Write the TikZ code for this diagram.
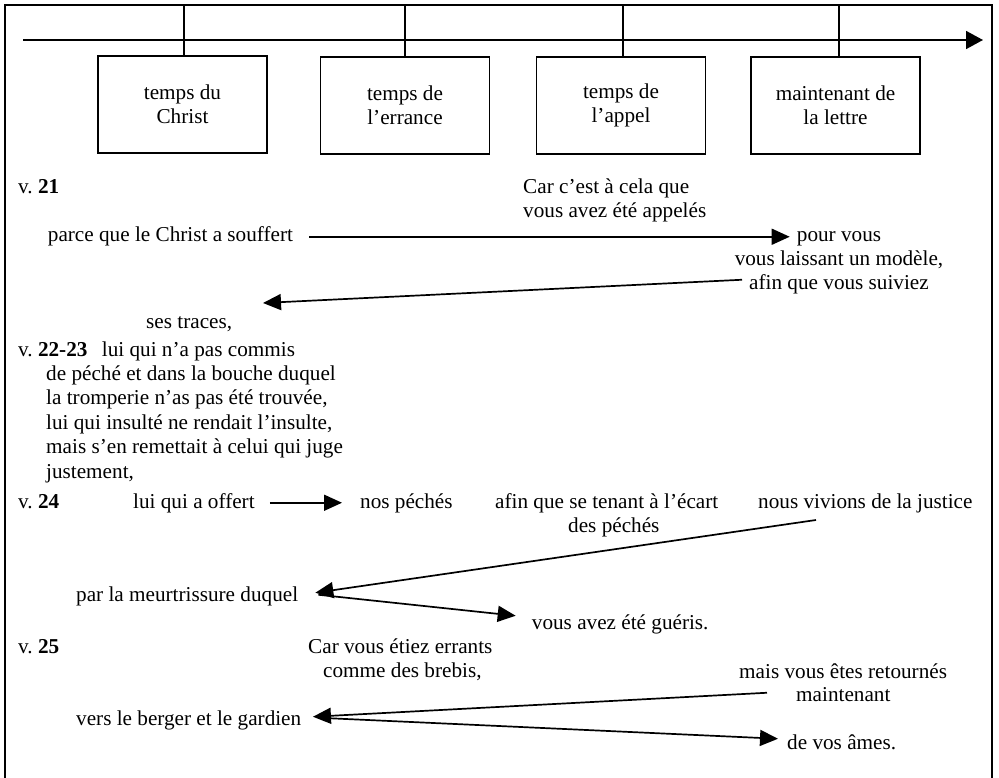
\documentclass[tikz,border=0pt]{standalone}
\usepackage{fontspec}
\setmainfont{Liberation Serif}
\usetikzlibrary{arrows.meta}
\begin{document}
\frenchspacing
\begin{tikzpicture}[x=1pt,y=-1pt,
  txt/.style={inner sep=0pt, anchor=base west, text height=15pt, text depth=4.5pt, font=\fontsize{21.2}{24.4}\selectfont\frenchspacing},
  ctxt/.style={txt, anchor=base},
  period/.style={draw, line width=1.6pt, minimum width=169pt, minimum height=97pt, inner sep=0pt, align=center, font=\fontsize{21.2}{24}\selectfont},
  arr/.style={line width=1.7pt, -{Triangle[length=18pt,width=16pt]}},
  tick/.style={line width=1.6pt},
  frame/.style={line width=2pt},
]
\useasboundingbox (0,0) rectangle (999,778);
% frame
\draw[frame] (5,778) -- (5,5) -- (992,5) -- (992,778);
% timeline
\coordinate (tl0) at (23,40);
\coordinate (tl1) at (983,40);
\coordinate (top) at (0,5);
\draw[line width=1.7pt, -{Triangle[length=17pt,width=18pt]}] (tl0) -- (tl1);
% period boxes
\node[period] (b1) at (182.5,104.5) {temps du\\Christ};
\node[period] (b2) at (405,105.5) {temps de\\l’errance};
\node[period] (b3) at (621,105.5) {temps de\\l’appel};
\node[period] (b4) at (835.5,105.5) {maintenant de\\la lettre};
\draw[tick] ([xshift=1.5pt]b1.north) -- ([xshift=1.5pt]b1.north |- top);
\draw[tick] (b2.north) -- (b2.north |- top);
\draw[tick] ([xshift=2pt]b3.north) -- ([xshift=2pt]b3.north |- top);
\draw[tick] ([xshift=3.5pt]b4.north) -- ([xshift=3.5pt]b4.north |- top);
% v. 21
\node[txt] (v21) at (18,194) {v. \textbf{21}};
\node[txt] (car1) at (523,194) {Car c’est à cela que};
\node[txt] (car2) at (523,218) {vous avez été appelés};
\node[txt] (parce) at (47.7,242) {parce que le Christ a souffert};
\node[ctxt] (pour) at (839,242) {pour vous};
\node[ctxt] (laiss) at (839,265.5) {vous laissant un modèle,};
\node[ctxt] (afin) at (839,289) {afin que vous suiviez};
\node[txt] (ses) at (146,328) {ses traces,};
% v. 22-23
\node[txt] (v22) at (18,356) {v. \textbf{22-23}};
\node[txt] (lui1) at (101.7,356) {lui qui n’a pas commis};
\node[txt] (l2) at (46,380.4) {de péché et dans la bouche duquel};
\node[txt] (l3) at (46,404.8) {la tromperie n’as pas été trouvée,};
\node[txt] (l4) at (46,429.2) {lui qui insulté ne rendait l’insulte,};
\node[txt] (l5) at (46,453.6) {mais s’en remettait à celui qui juge};
\node[txt] (l6) at (46,478) {justement,};
% v. 24
\node[txt] (v24) at (18,508) {v. \textbf{24}};
\node[txt] (offert) at (133,508) {lui qui a offert};
\node[txt] (nos) at (360,508) {nos péchés};
\node[txt] (ecart) at (495,508) {afin que se tenant à l’écart};
\node[txt] (despec) at (568,532) {des péchés};
\node[txt] (vivions) at (758,508) {nous vivions de la justice};
\node[txt] (meur) at (76,601) {par la meurtrissure duquel};
\node[txt] (gueris) at (531.7,629) {vous avez été guéris.};
% v. 25
\node[txt] (v25) at (18,653) {v. \textbf{25}};
\node[txt] (errants) at (308,653) {Car vous étiez errants};
\node[txt] (brebis) at (323,677) {comme des brebis,};
\node[txt] (retour) at (739,678) {mais vous êtes retournés};
\node[txt] (maint) at (796,701) {maintenant};
\node[txt] (berger) at (76,725) {vers le berger et le gardien};
\node[txt] (ames) at (787,749) {de vos âmes.};
% connectors
\coordinate (trtip) at (263,303);
\coordinate (vivtail) at (816,520);
\draw[arr] ([xshift=16pt]parce.east) -- ([xshift=-7pt]pour.west);
\draw[arr] ([xshift=-7pt,yshift=4pt]afin.west) -- (trtip);
\draw[arr] ([xshift=15pt]offert.east) -- ([xshift=-18pt]nos.west);
\draw[arr] (vivtail) -- ([xshift=17pt,yshift=3pt]meur.east);
\draw[arr] ([xshift=20pt,yshift=1pt]meur.east) -- ([xshift=-16pt,yshift=8pt]gueris.west);
\draw[arr] ([xshift=-29pt,yshift=3pt]maint.west) -- ([xshift=11.5pt,yshift=3pt]berger.east);
\draw[arr] ([xshift=17pt,yshift=2pt]berger.east) -- ([xshift=-9pt,yshift=5pt]ames.west);
\end{tikzpicture}
\end{document}
